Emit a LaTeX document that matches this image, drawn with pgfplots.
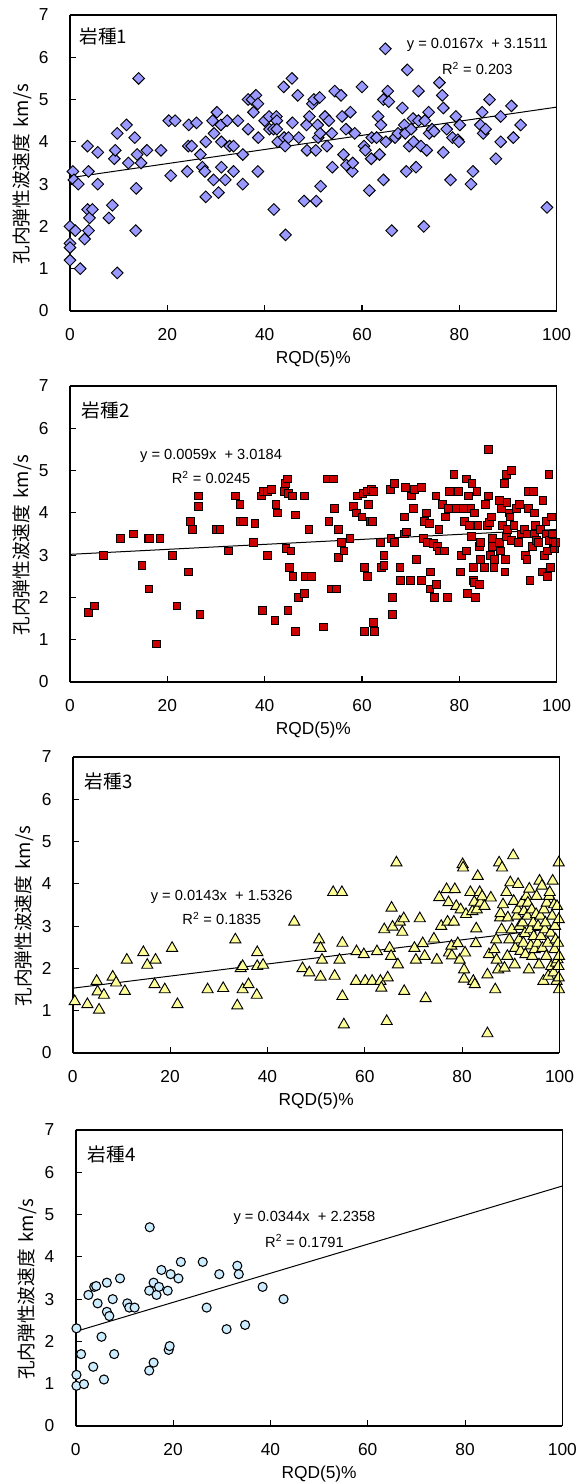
\documentclass[border=0pt]{standalone}
\usepackage{fontspec}
\setmainfont{Liberation Sans}
\newfontfamily\jp{Noto Sans CJK JP}
\usepackage{pgfplots}
\usepackage{pgfplotstable}
\pgfplotsset{compat=1.18}

\definecolor{rockA}{RGB}{153,153,255}
\definecolor{rockB}{RGB}{204,0,0}
\definecolor{rockC}{RGB}{255,255,153}
\definecolor{rockD}{RGB}{204,236,255}

% rock type 1
\pgfplotstableread{
x y
0 2.0
0 1.6
0 1.5
0 1.2
0.6 3.3
0.8 3.1
1.1 1.9
1.7 3.0
2.1 1.0
3 1.7
3.6 3.9
3.8 3.3
3.6 2.4
4 2.2
3.8 1.9
4.6 2.4
5.7 3.75
5.7 3.0
8 2.2
8.7 2.5
9.1 3.6
9.3 3.8
9.7 4.2
9.7 0.9
11.6 4.4
12 3.5
13.3 4.1
13.5 1.9
13.6 2.9
13.8 3.7
14.1 5.5
14.6 3.5
15.8 3.8
18.7 3.8
20.3 4.5
20.7 3.2
21.6 4.5
24.1 3.3
24.3 3.9
24.4 4.4
25 3.9
26 4.45
26.8 3.7
27.2 3.4
27.7 3.3
27.9 4.0
27.9 2.7
29.3 4.5
29.5 3.1
29.6 4.2
30.2 4.7
30.5 2.8
31 4.4
31.1 3.4
31.1 4.0
31.9 3.1
32.3 4.5
32.8 3.9
33.6 3.9
33.6 3.3
34.5 4.5
35.5 3.7
35.5 3.0
36.6 5.0
36.6 4.3
37.4 5.0
37.7 4.7
38.2 5.1
38.6 4.9
38.6 3.3
38.7 4.1
40 4.5
40.9 4.6
41 4.3
41.8 4.3
41.9 2.4
42.4 4.6
42.5 4.5
42.5 4.3
42.7 4.0
43.9 5.3
44 4.1
44.2 3.9
44.3 1.8
44.9 4.1
45.6 5.5
45.7 4.45
46.8 5.1
47 4.1
48.1 2.6
48.6 4.4
48.7 3.8
49.2 4.6
49.8 4.9
50.1 5.0
50.5 3.8
50.6 2.6
50.9 4.4
51 4.1
51.3 5.05
51.4 4.2
51.5 2.95
52.4 4.6
52.8 3.9
53.2 4.5
53.8 4.2
53.9 3.4
54.4 5.2
55.7 5.1
55.9 4.6
56.2 3.7
56.7 4.3
56.8 3.45
57.6 4.7
58 3.3
58.1 3.5
58.5 4.2
60 5.3
60.4 3.9
60.7 3.8
61.5 2.85
61.9 3.6
62 4.1
63 4.1
63.3 4.6
63.6 3.7
63.9 4.4
64.4 3.1
64.4 5.0
64.8 6.2
64.9 4.0
65.3 5.2
65.5 4.95
66.1 1.9
66.8 4.1
67.4 4.2
68.3 4.8
68.7 4.4
68.9 4.2
69.1 3.3
69.3 5.7
69.7 3.9
70.1 4.3
70.5 4.55
70.6 4.0
71.1 3.4
71.6 5.2
71.6 4.5
72.1 3.9
72.7 2.0
72.9 4.5
73.3 3.8
73.7 4.7
73.8 4.2
74.4 4.3
74.8 4.25
75.9 5.4
76.5 5.1
76.7 4.8
76.7 3.75
77.4 4.3
78.2 3.1
78.6 4.1
79.3 4.6
79.7 4.05
79.9 4.0
80.1 4.4
82.4 3.0
82.8 3.3
84.3 4.4
84.7 4.7
84.9 4.2
85.4 4.3
86.2 5.0
87.5 3.6
88.5 4.6
88.5 4.0
90.7 4.85
91.1 4.1
92.6 4.4
98 2.45
}\rockone

% rock type 2
\pgfplotstableread{
x y
3.8 1.65
5 1.8
6.9 3.0
10.4 3.4
13.1 3.5
14.8 2.75
16 3.4
16.3 3.4
16.2 2.2
17.7 0.9
18.5 3.4
21 3.0
22 1.8
24.3 2.6
24.8 3.8
25.2 3.6
26.4 4.4
26.4 4.15
26.7 1.6
30 3.6
30.8 3.6
32.6 3.1
34 4.4
34.9 4.2
34.9 3.8
35.7 3.8
37.7 3.3
38 3.75
39.4 4.4
39.5 1.7
39.8 4.5
40.5 4.5
40.5 3.0
41.4 4.55
42.1 1.45
42.3 4.2
42.7 4.0
44 4.5
44.2 4.7
44.4 3.15
44.7 4.8
44.8 1.7
44.9 4.45
45.1 2.7
45.4 3.1
45.7 4.4
45.8 2.5
46.3 1.2
46.4 3.95
46.9 2.0
48.2 4.4
48.2 2.1
48.3 2.5
49.1 3.6
49.6 2.5
52.1 1.3
52.8 4.8
53.2 3.8
54.2 4.8
53.8 2.2
54.7 2.2
54.3 4.1
55.1 2.95
55.2 3.6
55.8 3.3
56.3 3.1
57.5 3.4
58.3 4.15
58.9 4.0
59 4.4
60 3.9
60.2 4.45
60.5 2.7
60.5 1.2
61 4.5
61.1 2.5
61.4 4.2
61.7 3.8
61.9 4.55
62.2 3.8
62.3 4.5
62.3 1.4
62.5 1.2
63.8 3.3
64 2.7
64.5 3.0
64.5 2.75
65.8 4.55
65.96 3.4
66.3 2.0
66.3 1.6
66.6 4.7
66.6 3.3
67.8 2.7
67.9 2.4
68.7 3.9
68.7 3.5
69 4.6
69.1 3.55
70 2.4
70.2 4.4
70.6 4.1
70.8 4.55
71.2 2.9
72.2 4.6
72.2 2.4
72.6 3.4
72.9 3.8
73.2 4.0
73.5 3.3
73.8 3.75
74.1 2.6
73.96 2.2
74.7 3.27
74.9 2.0
75.2 4.4
75.3 2.3
75.5 3.2
75.8 3.6
75.9 3.1
76.6 4.2
77 3.1
77.1 3.9
77.6 2.0
77.7 4.1
78 4.5
78.9 4.9
79.4 4.1
79.8 4.5
80.3 2.6
80.4 3.0
80.9 4.1
81.1 3.8
81.4 3.1
81.5 4.8
81.7 2.1
81.9 4.4
82.1 3.7
82.4 4.1
82.5 3.45
82.6 4.7
82.9 2.7
82.9 2.4
83 2.35
83.1 4.0
83.3 2.0
83.6 4.5
83.8 3.7
84.2 2.3
84.2 3.2
84.3 2.9
84.4 3.3
85.1 2.7
85.3 4.2
85.8 3.7
85.96 4.4
85.96 5.5
86.2 3.77
86.4 3.0
86.6 3.9
86.8 3.2
86.8 3.4
87.1 2.7
87.2 2.9
88.3 4.3
88.3 3.3
88.5 3.1
88.6 4.1
88.9 3.7
89.2 4.7
89.4 2.6
89.5 2.9
89.7 4.9
89.7 3.45
89.8 4.25
89.96 3.6
90.2 4.0
90.4 3.9
90.7 5.0
90.7 3.35
91.2 3.7
91.8 4.1
92.1 3.3
92.3 4.2
92.8 3.5
93.4 3.6
93.6 3.0
93.9 2.9
94 3.5
94.2 4.1
94.2 4.5
94.5 2.4
95.1 3.2
95.2 4.5
95.4 4.0
95.5 3.5
95.7 3.7
95.8 3.35
96.2 3.3
96.6 3.6
96.98 2.6
97.2 4.3
97.5 3.0
97.8 3.8
97.96 3.5
98.1 2.5
98.1 3.1
98.4 4.9
98.5 3.35
98.7 2.7
98.9 3.9
99.2 3.5
99.3 3.3
99.6 3.15
99.8 3.3
}\rocktwo

% rock type 3
\pgfplotstableread{
x y
0.4 1.22
3 1.15
4.9 1.7
5.1 1.45
5.4 1.02
6.4 1.37
8.2 1.8
8.9 1.66
10.7 1.46
11.1 2.2
14.5 2.38
15.3 2.08
17 2.2
16.8 1.62
18.9 1.5
20.4 2.48
21.5 1.15
27.7 1.5
30.9 1.53
33.4 2.68
33.8 1.12
34.5 2.0
34.9 1.5
34.9 2.05
36.1 1.62
37.8 1.37
37.9 2.38
37.9 2.05
39.1 2.08
45.5 3.1
47.2 2.0
48.6 1.9
50.6 2.68
50.9 2.48
50.9 1.8
51.2 2.2
53.5 3.8
53.8 1.82
54.8 2.2
55.3 3.8
55.4 2.6
55.4 1.34
55.7 0.67
58.2 1.7
58.3 2.4
59.8 2.33
60.1 1.7
61.5 1.7
62.5 2.4
63.2 1.7
63.4 1.54
64 2.92
64.5 0.75
64.7 1.78
65.1 2.48
65.4 2.29
65.5 3.43
65.7 2.98
66.5 4.5
66.8 2.09
67.2 3.1
67.7 2.86
68 3.18
68.1 1.46
70.2 2.48
70.5 2.2
71.3 3.18
71.9 2.59
72.3 2.29
72.5 1.29
74.2 2.7
74.8 2.2
75.3 3.68
75.7 3.0
76.8 3.87
77 3.1
77.2 3.56
77.3 2.37
77.8 2.53
77.9 2.3
78.3 3.1
78.5 3.87
78.8 3.47
79.1 2.59
79.5 2.2
79.7 3.39
80.1 4.46
80.2 4.38
80.4 1.75
80.4 1.97
80.6 2.37
80.8 3.28
81.7 3.8
82.1 3.35
82.3 1.7
82.5 3.57
82.6 1.62
82.8 2.59
82.9 2.94
83 3.39
83.2 4.18
83.6 3.8
83.8 3.55
84.1 3.7
84.6 3.47
85.2 1.85
85.2 0.46
85.5 2.33
85.9 3.67
86.6 2.45
86.8 1.5
87 2.68
87.1 2.2
87.4 1.97
87.6 4.5
87.8 3.2
87.9 3.3
88.1 2.92
88.2 4.38
88.4 3.51
88.7 2.01
89.1 3.8
89.3 2.29
89.4 3.2
89.7 2.68
89.9 4.03
90.2 2.92
90.5 4.67
90.6 3.59
90.8 2.09
90.9 2.48
91.2 3.24
91.4 3.39
91.5 3.99
91.7 2.68
91.8 3.0
92 2.41
92.3 3.55
92.4 3.08
92.6 2.6
92.7 3.35
92.9 2.83
93 2.33
93.2 3.71
93.4 3.24
93.5 3.55
93.7 1.97
93.8 3.88
94 2.92
94.1 2.54
94.3 3.39
94.4 2.29
94.6 3.08
94.7 2.76
94.9 2.45
95.2 3.28
95.3 3.71
95.5 2.6
95.6 3.0
95.8 2.09
95.9 4.07
96.1 3.24
96.2 2.76
96.4 3.95
96.5 2.48
96.7 1.7
96.8 3.39
97 2.92
97.1 3.08
97.3 2.29
97.4 3.55
97.6 2.6
97.7 1.82
97.9 3.71
98 3.8
98.2 2.84
98.3 2.05
98.5 3.24
98.6 4.07
98.8 1.9
98.9 3.51
99 2.45
99.1 3.0
99.2 2.68
99.3 2.13
99.4 1.7
99.5 3.47
99.6 2.21
99.7 2.6
99.8 2.05
99.85 4.5
99.85 3.16
99.9 1.5
99.9 2.29
99.85 1.78
}\rockthree

% rock type 4
\pgfplotstableread{
x y
0.15 2.31
0.15 1.21
0.15 0.95
1.1 1.7
1.7 0.99
2.6 3.1
3.6 1.4
3.8 3.29
4.2 3.31
4.5 2.9
5.3 2.11
5.8 1.1
6.4 3.39
6.4 2.7
6.9 2.6
7.6 3.0
7.9 1.7
9.1 3.49
10.6 2.9
11 2.8
12.1 2.8
15.1 1.31
15.1 3.2
15.2 4.7
16 3.39
16 1.5
16.6 3.1
17.1 3.29
17.6 3.69
18.9 3.2
19.1 1.8
19.3 1.89
19.5 3.59
21.1 3.49
21.6 3.88
26.1 3.88
26.9 2.8
29.5 3.59
31 2.29
33.2 3.79
33.5 3.59
34.8 2.39
38.4 3.29
42.7 3.0
}\rockfour

\pgfplotsset{
  rock/.style={
    scale only axis, width=365pt, height=222pt,
    xmin=0, xmax=100, ymin=0, ymax=7,
    xtick={0,20,40,60,80,100}, ytick={0,1,2,3,4,5,6,7},
    axis x line*=bottom, axis y line*=left,
    axis line style={line width=1.5pt},
    tick align=inside, major tick length=4.5pt,
    tick style={line width=0.8pt, black},
    tick label style={font=\fontsize{13}{15}\selectfont},
    /pgf/number format/assume math mode=true,
    xticklabel shift=9.5pt, yticklabel shift=12.5pt,
    xlabel={RQD(5)\%},
    xlabel style={font=\fontsize{13}{15}\selectfont, at={(axis description cs:0.5,0)}, anchor=center, yshift=-36pt},
    ylabel={孔内弾性波速度\hspace{0.35em}km/s},
    ylabel style={font=\jp\fontsize{14}{16}\selectfont, at={(axis description cs:0,0.462)}, anchor=center, yshift=36pt},
    clip=false,
    extra description/.code={
      \draw[line width=0.9pt] (axis description cs:0,1) -- (axis description cs:1,1) -- (axis description cs:1,0);
    },
  },
}
\tikzset{
  eqn/.style={font=\fontsize{11}{13}\selectfont, inner sep=0pt},
  tag/.style={font=\jp\fontsize{14}{16}\selectfont, anchor=west, inner sep=0pt},
}

\begin{document}
\begin{tikzpicture}
\useasboundingbox (0,0) rectangle (432pt,1112.25pt);

\begin{axis}[rock, at={(52.5pt,879pt)}, anchor=south west]
\addplot[only marks, mark=square*, mark size=3.1pt,
  mark options={rotate=45, fill=rockA, draw=black, line width=0.7pt}] table {\rockone};
\addplot[black, line width=0.75pt, no marks] coordinates {(0,3.1511) (100,4.8211)};
\node[tag] at (axis description cs:0.019,0.928) {岩種1};
\node[eqn] at (axis description cs:0.837,0.898) {y = 0.0167x\ \ + 3.1511};
\node[eqn] at (axis description cs:0.837,0.819) {R\textsuperscript{2} = 0.203};
\end{axis}

\begin{axis}[rock, at={(52.5pt,600.75pt)}, anchor=south west]
\addplot[only marks, mark=square*, mark size=2.9pt,
  mark options={fill=rockB, draw=black, line width=0.7pt}] table {\rocktwo};
\addplot[black, line width=0.75pt, no marks] coordinates {(0,3.0184) (100,3.6084)};
\node[tag] at (axis description cs:0.024,0.919) {岩種2};
\node[eqn] at (axis description cs:0.29,0.764) {y = 0.0059x\ \ + 3.0184};
\node[eqn] at (axis description cs:0.29,0.69) {R\textsuperscript{2} = 0.0245};
\end{axis}

\begin{axis}[rock, at={(54.6pt,322.5pt)}, anchor=south west]
\addplot[only marks, mark=triangle*, mark size=4.8pt,
  mark options={fill=rockC, draw=black, line width=0.7pt}] table {\rockthree};
\addplot[black, line width=0.75pt, no marks] coordinates {(0,1.5326) (100,2.9626)};
\node[tag] at (axis description cs:0.024,0.919) {岩種3};
\node[eqn] at (axis description cs:0.306,0.529) {y = 0.0143x\ \ + 1.5326};
\node[eqn] at (axis description cs:0.306,0.454) {R\textsuperscript{2} = 0.1835};
\end{axis}

\begin{axis}[rock, at={(56.8pt,42.75pt)}, anchor=south west]
\addplot[only marks, mark=*, mark size=3.4pt,
  mark options={fill=rockD, draw=black, line width=0.8pt}] table {\rockfour};
\addplot[black, line width=0.75pt, no marks] coordinates {(0,2.2358) (100,5.6758)};
\node[tag] at (axis description cs:0.024,0.919) {岩種4};
\node[eqn] at (axis description cs:0.47,0.703) {y = 0.0344x\ \ + 2.2358};
\node[eqn] at (axis description cs:0.47,0.625) {R\textsuperscript{2} = 0.1791};
\end{axis}
\end{tikzpicture}
\end{document}
